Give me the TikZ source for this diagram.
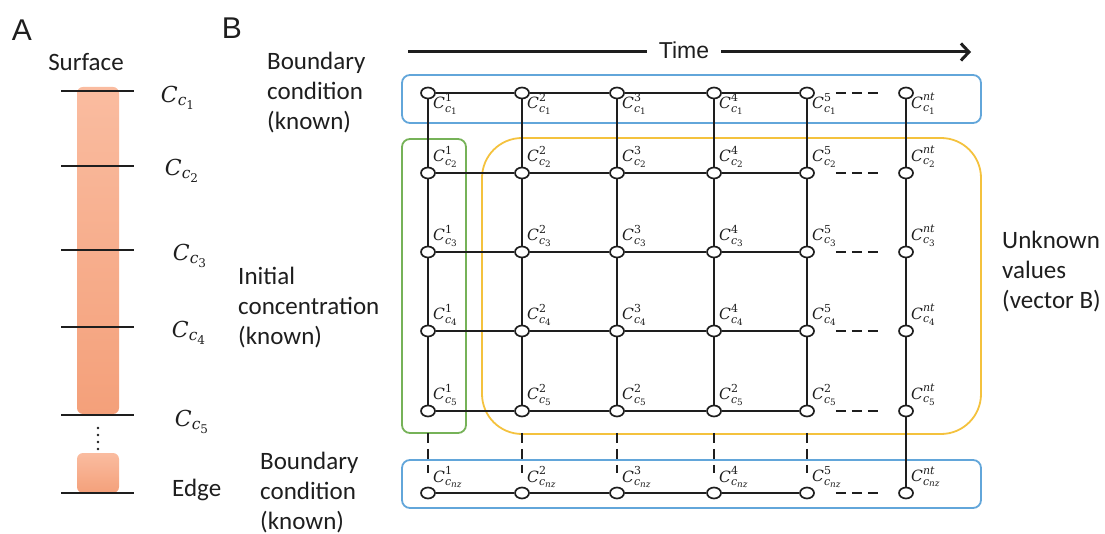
\documentclass[tikz,border=0pt]{standalone}
\usepackage{amsmath}
\usepackage{fontspec}
\setmainfont{Carlito}
\newfontfamily\headfont{Liberation Sans}
\newfontfamily\symfont{DejaVu Serif}
% italic symbol and upright index in the serif used for the concentration labels
\newcommand\si[1]{\text{\symfont\itshape #1}}
\newcommand\su[1]{\text{\symfont #1}}
\DeclareMathSizes{15.5}{15.5}{11}{8.8}
\DeclareMathSizes{22}{22}{15.5}{12}
\usetikzlibrary{shapes.geometric,arrows.meta}
\definecolor{boxblue}{RGB}{98,166,218}
\definecolor{boxgreen}{RGB}{118,178,88}
\definecolor{boxgold}{RGB}{244,194,62}
\definecolor{salmontop}{RGB}{250,188,160}
\definecolor{salmonbot}{RGB}{244,160,122}
\definecolor{ink}{RGB}{30,30,30}
\begin{document}
\begin{tikzpicture}[x=1pt,y=-1pt,
  gnode/.style={ellipse,draw=ink,fill=white,line width=1.7pt,minimum width=14pt,minimum height=11pt,inner sep=0pt},
  gridline/.style={draw=ink,line width=2.4pt},
  gapdash/.style={draw=ink,line width=2.8pt,dash pattern=on 10pt off 6pt},
  clabel/.style={font=\fontsize{15.5}{15.5}\selectfont,inner sep=0pt,anchor=west,text=ink},
  alabel/.style={font=\fontsize{22}{22}\selectfont,inner sep=0pt,text=ink},
  groupbox/.style={line width=1.8pt,rounded corners=8pt},
  note/.style={font=\fontsize{25}{30}\selectfont,align=left,anchor=west,inner sep=0pt,text=ink},
  panel/.style={font=\headfont\fontsize{30}{30}\selectfont,inner sep=0pt,text=ink},
  layer/.style={draw=ink,line width=2pt},
]
\useasboundingbox (0,0) rectangle (1105,534);

% ---------- panel letters ----------
\node[panel] (pa) at (22,30) {A};
\node[panel] (pb) at (232,28) {B};

% ---------- panel A: column of layers ----------
\shade[top color=salmontop,bottom color=salmonbot,rounded corners=6pt] (77,87) rectangle (119,414);
\shade[top color=salmontop,bottom color=salmonbot,rounded corners=6pt] (77,453) rectangle (119,493);
\foreach \y in {91,166,250,327,415,493}
  \draw[layer] (61,\y) -- (134,\y);
\foreach \y in {428,435,442,449}
  \fill[ink] (98,\y) circle (1.3pt);
\node[font=\fontsize{25}{30}\selectfont,inner sep=0pt,text=ink] (surf) at (86,62) {Surface};
\node[alabel] (a1) at (178,98) {$\si{C}_{\si{c}_{\su{1}}}$};
\node[alabel] (a2) at (182,171) {$\si{C}_{\si{c}_{\su{2}}}$};
\node[alabel] (a3) at (190,256) {$\si{C}_{\si{c}_{\su{3}}}$};
\node[alabel] (a4) at (189,333) {$\si{C}_{\si{c}_{\su{4}}}$};
\node[alabel] (a5) at (192,422) {$\si{C}_{\si{c}_{\su{5}}}$};
\node[font=\fontsize{25}{30}\selectfont,inner sep=0pt,anchor=west,text=ink] (edge) at (172,490) {Edge};

% ---------- panel B: time axis ----------
\node[font=\headfont\fontsize{23}{23}\selectfont,inner xsep=12pt,inner ysep=2pt,text=ink] (time) at (684,50) {Time};
\coordinate (tstart) at (408,52);
\coordinate (tend) at (971,52);
\draw[ink,line width=3pt] (tstart) -- (tstart -| time.west);
\draw[ink,line width=3pt,-{Straight Barb[length=8pt,width=17pt,line width=3pt]}] (tstart -| time.east) -- (tend);

% ---------- group outlines ----------
\draw[groupbox,boxblue] (402,75) rectangle (981,123);
\draw[groupbox,boxblue] (402,460) rectangle (981,508);
\draw[groupbox,boxgreen] (402,139) rectangle (466,433);
\draw[line width=1.8pt,boxgold,rounded corners=40pt] (482,138) rectangle (981,434);

% ---------- grid nodes ----------
\foreach \c/\x in {1/428,2/522,3/617,4/714,5/807,6/906}
  \foreach \r/\y in {1/93,2/173,3/252,4/331,5/411,6/493}
    \node[gnode] (n\r\c) at (\x,\y) {};

% horizontal links (time steps 1..5) in every row
\foreach \r in {1,...,6}
  \foreach \c [count=\d from 2] in {1,...,4}
    \draw[gridline] (n\r\c) -- (n\r\d);
% vertical links (depth) in every column
\foreach \c in {1,...,5}
  \foreach \r [count=\s from 2] in {1,...,4}
    \draw[gridline] (n\r\c) -- (n\s\c);
\foreach \r [count=\s from 2] in {1,...,5}
  \draw[gridline] (n\r6) -- (n\s6);
% omitted time steps and omitted depths
\foreach \r in {1,...,6}
  \draw[gapdash,shorten <=21pt,shorten >=20.5pt] (n\r5) -- (n\r6);
\foreach \c in {1,...,5}
  \draw[gapdash,shorten <=15.5pt,shorten >=13.5pt] (n5\c) -- (n6\c);

% ---------- grid labels ----------
\foreach \c/\t in {1/\su{1},2/\su{2},3/\su{3},4/\su{4},5/\su{5},6/\si{nt}}
  \node[clabel] (l1\c) at ([xshift=5pt,yshift=-11pt]n1\c) {$\si{C}^{\t}_{\si{c}_{\su{1}}}$};
\foreach \r in {2,3,4}
  \foreach \c/\t in {1/\su{1},2/\su{2},3/\su{3},4/\su{4},5/\su{5},6/\si{nt}}
    \node[clabel] (l\r\c) at ([xshift=5pt,yshift=16pt]n\r\c) {$\si{C}^{\t}_{\si{c}_{\su{\r}}}$};
\foreach \c/\t in {1/\su{1},2/\su{2},3/\su{2},4/\su{2},5/\su{2},6/\si{nt}}
  \node[clabel] (l5\c) at ([xshift=5pt,yshift=16pt]n5\c) {$\si{C}^{\t}_{\si{c}_{\su{5}}}$};
\foreach \c/\t in {1/\su{1},2/\su{2},3/\su{3},4/\su{4},5/\su{5},6/\si{nt}}
  \node[clabel] (l6\c) at ([xshift=5pt,yshift=16pt]n6\c) {$\si{C}^{\t}_{\si{c}_{\si{nz}}}$};

% ---------- side notes ----------
\node[note] (bctop) at (267,93) {Boundary\\condition\\(known)};
\node[note] (init) at (238,308) {Initial\\concentration\\(known)};
\node[note] (bcbot) at (260,493) {Boundary\\condition\\(known)};
\node[note] (unk) at (1002,272) {Unknown\\values\\(vector B)};
\end{tikzpicture}
\end{document}
